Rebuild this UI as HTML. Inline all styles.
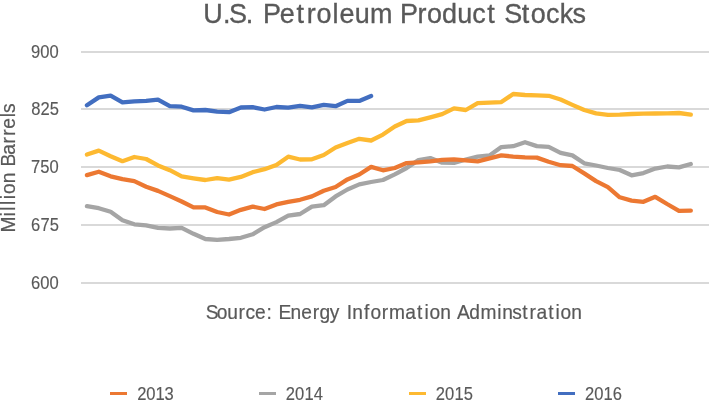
<!DOCTYPE html>
<html lang="en">
<head>
<meta charset="utf-8">
<title>U.S. Petroleum Product Stocks</title>
<style>
html,body{margin:0;padding:0;background:#fff;}
body{width:711px;height:403px;overflow:hidden;}
svg{display:block;font-family:"Liberation Sans",sans-serif;}
</style>
</head>
<body>
<svg width="711" height="403" viewBox="0 0 711 403" role="img" aria-label="U.S. Petroleum Product Stocks line chart">
<rect width="711" height="403" fill="#ffffff"/>
<g fill="#D9D9D9"><rect x="81" y="51" width="628" height="2"/><rect x="81" y="108" width="628" height="2"/><rect x="81" y="166" width="628" height="2"/><rect x="81" y="224" width="628" height="2"/><rect x="81" y="282" width="628" height="2"/></g>
<g fill="none" stroke-width="4.3" stroke-linecap="round" stroke-linejoin="round">
<polyline points="86.95,206.20 98.79,208.20 110.63,211.80 122.47,220.20 134.31,224.30 146.15,225.30 157.99,227.80 169.83,228.50 181.67,227.80 193.51,233.80 205.35,239.00 217.19,239.90 229.03,239.00 240.87,237.80 252.71,234.30 264.55,227.20 276.39,222.10 288.23,215.70 300.07,214.00 311.91,206.70 323.75,205.20 335.59,196.40 347.43,189.50 359.27,184.40 371.11,182.00 382.95,180.00 394.79,174.40 406.63,168.00 418.47,160.10 430.31,158.10 442.15,162.70 453.99,162.90 465.83,159.50 477.67,156.70 489.51,155.40 501.35,147.10 513.19,146.20 525.03,142.20 536.87,146.10 548.71,146.90 560.55,152.80 572.39,155.40 584.23,163.30 596.07,165.50 607.91,168.00 619.75,170.00 631.59,175.30 643.43,173.10 655.27,168.60 667.11,166.50 678.95,167.40 690.79,164.00" stroke="#A5A5A5"/>
<polyline points="86.95,175.10 98.79,171.70 110.63,176.30 122.47,179.20 134.31,181.10 146.15,186.70 157.99,190.90 169.83,196.10 181.67,201.50 193.51,207.40 205.35,207.40 217.19,212.00 229.03,214.50 240.87,209.80 252.71,206.60 264.55,209.00 276.39,204.40 288.23,201.90 300.07,199.80 311.91,196.40 323.75,190.80 335.59,187.00 347.43,179.40 359.27,174.50 371.11,166.90 382.95,170.30 394.79,168.00 406.63,163.10 418.47,162.30 430.31,161.30 442.15,159.90 453.99,159.30 465.83,160.40 477.67,161.30 489.51,158.40 501.35,155.40 513.19,156.60 525.03,157.40 536.87,157.60 548.71,161.80 560.55,165.20 572.39,166.00 584.23,173.40 596.07,181.10 607.91,187.20 619.75,197.30 631.59,200.60 643.43,201.80 655.27,196.80 667.11,204.00 678.95,210.80 690.79,210.60" stroke="#EC7832"/>
<polyline points="86.95,154.50 98.79,150.60 110.63,156.20 122.47,161.20 134.31,157.00 146.15,159.00 157.99,165.40 169.83,170.20 181.67,176.40 193.51,178.30 205.35,180.00 217.19,178.10 229.03,179.60 240.87,176.90 252.71,172.20 264.55,169.20 276.39,164.90 288.23,156.70 300.07,159.50 311.91,159.30 323.75,155.00 335.59,147.50 347.43,143.00 359.27,138.80 371.11,140.50 382.95,134.60 394.79,126.50 406.63,121.00 418.47,120.30 430.31,117.30 442.15,114.20 453.99,108.30 465.83,110.00 477.67,103.20 489.51,102.60 501.35,102.10 513.19,94.00 525.03,95.00 536.87,95.30 548.71,95.80 560.55,99.50 572.39,104.90 584.23,110.00 596.07,113.40 607.91,114.80 619.75,114.70 631.59,114.00 643.43,113.70 655.27,113.50 667.11,113.40 678.95,113.00 690.79,114.70" stroke="#FDB931"/>
<polyline points="86.95,105.30 98.79,97.40 110.63,95.70 122.47,102.40 134.31,101.40 146.15,100.80 157.99,99.70 169.83,106.20 181.67,106.70 193.51,110.40 205.35,110.00 217.19,111.60 229.03,112.20 240.87,107.50 252.71,107.20 264.55,109.50 276.39,107.00 288.23,107.70 300.07,105.80 311.91,107.30 323.75,104.80 335.59,106.20 347.43,100.90 359.27,100.90 371.11,96.00" stroke="#426EC0"/>
</g>
<g><rect x="110" y="392" width="17" height="3" fill="#EC7832"/><rect x="259" y="392" width="17" height="3" fill="#A5A5A5"/><rect x="409" y="392" width="17" height="3" fill="#FDB931"/><rect x="558" y="392" width="17" height="3" fill="#426EC0"/></g>
<g fill="#595959" stroke="#595959">
<text transform="translate(0 23) scale(0.95 1)" x="213.95 234.62 241.09 258.61 269.07 276.93 294.56 312.21 322.85 333.16 350.02 357.50 373.38 389.48 414.00 421.06 439.44 449.60 465.36 481.24 497.03 513.02 523.98 530.76 549.11 558.81 574.71 589.33 602.63" y="0" font-size="28.4" stroke-width="0.35">U.S. Petroleum Product Stocks</text>
<text transform="translate(0 58) scale(0.91 1)" x="34.16 44.24 54.33" y="0" font-size="18.2" stroke-width="0.15">900</text>
<text transform="translate(0 115) scale(0.91 1)" x="34.44 44.53 54.62" y="0" font-size="18.2" stroke-width="0.15">825</text>
<text transform="translate(0 173) scale(0.91 1)" x="34.16 44.24 54.33" y="0" font-size="18.2" stroke-width="0.15">750</text>
<text transform="translate(0 231) scale(0.91 1)" x="34.20 44.39 54.57" y="0" font-size="18.2" stroke-width="0.15">675</text>
<text transform="translate(0 289) scale(0.91 1)" x="34.16 44.24 54.33" y="0" font-size="18.2" stroke-width="0.15">600</text>
<text transform="translate(15 0) rotate(-90) scale(0.95 1)" x="-244.64 -228.02 -221.92 -215.72 -209.62 -204.35 -192.96 -180.82 -175.27 -162.81 -151.06 -142.97 -135.52 -123.41 -118.94" y="0" font-size="20.2" stroke-width="0.2">Million Barrels</text>
<text transform="translate(0 319) scale(0.95 1)" x="216.51 228.06 239.16 251.00 258.37 268.47 280.63 288.00 293.29 305.72 317.12 329.14 336.20 347.17 358.30 364.95 370.78 383.20 389.90 401.86 409.59 426.60 439.07 446.77 452.01 463.37 475.34 480.99 494.05 505.69 523.47 528.75 539.22 549.81 557.42 564.68 577.09 584.74 589.92 601.20" y="0" font-size="20.2" stroke-width="0.2">Source: Energy Information Adminstration</text>
<text transform="translate(0 400) scale(0.91 1)" x="150.73 160.79 170.84 180.90" y="0" font-size="18.2" stroke-width="0.15">2013</text>
<text transform="translate(0 400) scale(0.91 1)" x="314.02 324.28 334.54 344.80" y="0" font-size="18.2" stroke-width="0.15">2014</text>
<text transform="translate(0 400) scale(0.91 1)" x="478.85 489.10 499.35 509.59" y="0" font-size="18.2" stroke-width="0.15">2015</text>
<text transform="translate(0 400) scale(0.91 1)" x="642.79 653.01 663.23 673.45" y="0" font-size="18.2" stroke-width="0.15">2016</text>
</g>
</svg>
</body>
</html>
